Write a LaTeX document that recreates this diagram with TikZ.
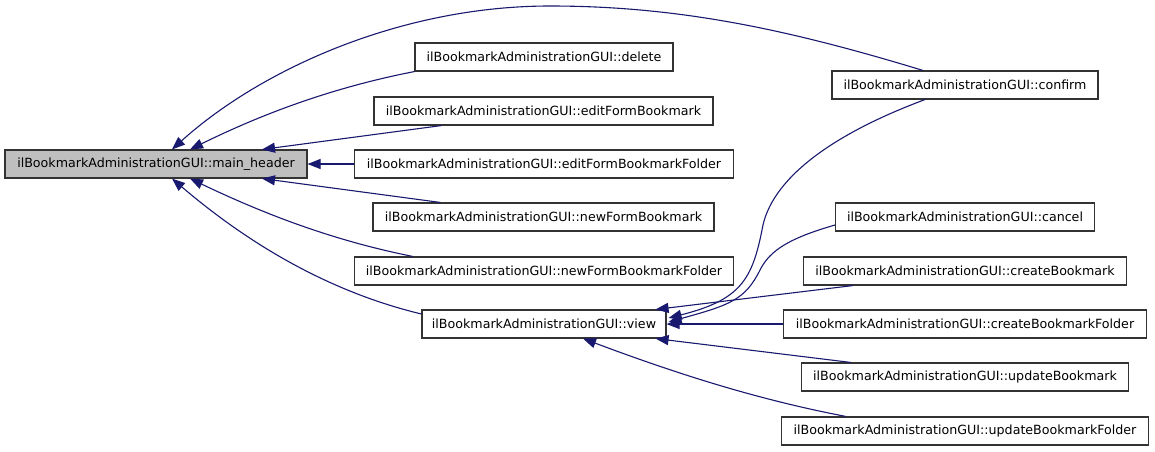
\documentclass[tikz,border=0pt]{standalone}
\usepackage{fontspec}
\setmainfont{DejaVu Sans}
\usetikzlibrary{arrows.meta}
\definecolor{edgeblue}{HTML}{191970}
\definecolor{mainfill}{HTML}{BFBFBF}
\definecolor{boxline}{HTML}{333333}
\begin{document}
\begin{tikzpicture}[x=1pt,y=-1pt,
  fn/.style={draw=boxline,line width=1.1pt,rectangle,inner sep=0pt,minimum height=28pt,
    font=\fontsize{12.65}{15}\selectfont,text=black},
  call/.style={draw=edgeblue,line width=1.1pt,-{Triangle[length=13pt,width=10pt]}}]
\useasboundingbox (0,0) rectangle (1155,451);
\fill[white] (0,0) rectangle (1155,451);
% nodes
\node[fn,fill=mainfill,minimum width=302pt] (main) at (156,164) {ilBookmarkAdministrationGUI::main\_header};
\node[fn,minimum width=258pt] (delete) at (544,57) {ilBookmarkAdministrationGUI::delete};
\node[fn,minimum width=339pt] (efb) at (543.5,111) {ilBookmarkAdministrationGUI::editFormBookmark};
\node[fn,minimum width=379pt] (efbf) at (544,164) {ilBookmarkAdministrationGUI::editFormBookmarkFolder};
\node[fn,minimum width=341pt] (nfb) at (543.5,217) {ilBookmarkAdministrationGUI::newFormBookmark};
\node[fn,minimum width=379pt] (nfbf) at (544,271) {ilBookmarkAdministrationGUI::newFormBookmarkFolder};
\node[fn,minimum width=244pt] (view) at (544,324) {ilBookmarkAdministrationGUI::view};
\node[fn,minimum width=266pt] (confirm) at (965,85) {ilBookmarkAdministrationGUI::confirm};
\node[fn,minimum width=259pt] (cancel) at (965,217) {ilBookmarkAdministrationGUI::cancel};
\node[fn,minimum width=323pt] (cb) at (965,271) {ilBookmarkAdministrationGUI::createBookmark};
\node[fn,minimum width=363pt] (cbf) at (965,324) {ilBookmarkAdministrationGUI::createBookmarkFolder};
\node[fn,minimum width=327pt] (ub) at (965,377) {ilBookmarkAdministrationGUI::updateBookmark};
\node[fn,minimum width=367pt] (ubf) at (965,431) {ilBookmarkAdministrationGUI::updateBookmarkFolder};
% edges to main_header
\draw[call] ([xshift=-42pt]confirm.north) .. controls (790,30) and (680,6) .. (550,6)
  .. controls (400,6) and (260,70) .. ([xshift=16pt]main.north);
\draw[call] (delete.south west) .. controls (330,88) and (260,115) .. ([xshift=34pt]main.north);
\draw[call] ([xshift=68pt]efb.south west) -- ([xshift=106pt]main.north);
\draw[call] (efbf.west) -- (main.east);
\draw[call] ([xshift=68pt]nfb.north west) -- ([xshift=106pt]main.south);
\draw[call] ([xshift=59pt]nfbf.north west) .. controls (330,240) and (260,212) .. ([xshift=34pt]main.south);
\draw[call] ([yshift=10pt]view.west) .. controls (330,292) and (250,245) .. ([xshift=16pt]main.south);
% edges to view
\draw[call] ([xshift=-40pt]confirm.south) .. controls (830,135) and (770,180) .. (762,230)
  .. controls (752,280) and (740,300) .. ([xshift=2pt,yshift=6pt]view.east);
\draw[call] ([yshift=-8pt]cancel.west) .. controls (790,238) and (770,250) .. (760,270)
  .. controls (745,300) and (730,305) .. ([xshift=2pt,yshift=2pt]view.east);
\draw[call] ([xshift=50pt]cb.south west) -- ([xshift=-11pt]view.north east);
\draw[call] (cbf.west) -- (view.east);
\draw[call] ([xshift=50pt]ub.north west) -- ([xshift=-11pt]view.south east);
\draw[call] ([xshift=65pt]ubf.north west) .. controls (760,400) and (680,375) .. ([xshift=39pt]view.south);
\end{tikzpicture}
\end{document}
